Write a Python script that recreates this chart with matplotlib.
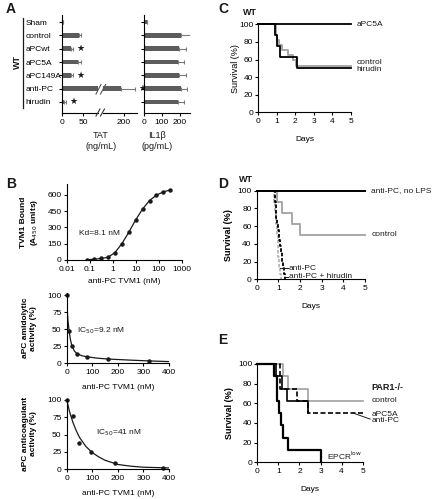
import matplotlib
matplotlib.use("Agg")
import matplotlib.pyplot as plt
from matplotlib.lines import Line2D

W, H = 432, 499
plt.rcParams['font.family'] = ['Liberation Sans', 'DejaVu Sans']
plt.rcParams['font.size'] = 6
plt.rcParams['text.color'] = '#1a1a1a'
plt.rcParams['axes.linewidth'] = 0.8
plt.rcParams['xtick.major.size'] = 2.5
plt.rcParams['ytick.major.size'] = 2.5
plt.rcParams['xtick.major.width'] = 0.8
plt.rcParams['ytick.major.width'] = 0.8
plt.rcParams['xtick.major.pad'] = 1.5
plt.rcParams['ytick.major.pad'] = 1.2
plt.rcParams['xtick.labelsize'] = 6
plt.rcParams['ytick.labelsize'] = 6

# ---------------- data ----------------
# A: TAT / IL1b bars
groups = ['Sham', 'control', 'aPCwt', 'aPC5A', 'aPC149A', 'anti-PC', 'hirudin']
tat = [3, 39, 21, 37, 21, 192, 5]
tat_err = [0, 6, 5, 8, 5, 34, 4]
tat_star = [False, False, True, False, True, True, True]
il1b = [22, 207, 198, 190, 198, 207, 193]
il1b_err = [0, 55, 40, 33, 40, 37, 33]

# B: TVM1 binding
tvm1_conc = [0.078, 0.156, 0.3125, 0.625, 1.25, 2.5, 5, 10, 20, 40, 80, 160, 320]
tvm1_bound = [3, 7, 14, 25, 68, 150, 255, 370, 470, 548, 597, 628, 645]

# B: amidolytic activity
amid_x = [0, 10, 20, 40, 80, 160, 320]
amid_y = [100, 47, 26, 14, 9, 7, 4]
amid_fit_x = [0, 2, 5, 10, 15, 20, 30, 40, 60, 80, 120, 160, 240, 320, 400]
amid_fit_y = [100, 80, 62, 46, 34, 26, 18, 14, 11, 9.5, 7.5, 6.3, 4.8, 3.5, 2.5]

# B: anticoagulant activity
coag_x = [0, 23.4, 46.9, 93.8, 187.5, 375]
coag_y = [100, 77, 38, 25, 8.5, 2]
coag_fit_x = [0, 12, 25, 37, 50, 75, 100, 125, 150, 200, 250, 300, 400]
coag_fit_y = [100, 82, 67, 56, 46, 33, 24, 18, 13, 7, 4.5, 3, 2]

# C: survival WT
c_apc5a_t, c_apc5a_s = [0, 5], [100, 100]
c_ctrl_t = [0, 0.93, 1.02, 1.12, 1.3, 1.6, 1.85, 2.02, 5]
c_ctrl_s = [100, 88, 82, 76, 70.5, 65, 59, 53, 53]
c_hir_t = [0, 0.9, 1.0, 1.17, 2.1, 5]
c_hir_s = [100, 87.5, 75, 62.5, 50, 50]

# D: survival WT
d_nolps_t, d_nolps_s = [0, 5], [100, 100]
d_ctrl_t = [0, 0.95, 1.15, 1.62, 2.0, 5]
d_ctrl_s = [100, 87.5, 75, 62.5, 50, 50]
d_apc_t = [0, 0.85, 0.87, 0.89, 0.91, 0.93, 0.97, 1.02, 1.06, 1.1, 1.15, 1.2, 1.25, 1.3]
d_apc_s = [100, 87.5, 81, 75, 69, 62.5, 56, 44, 37.5, 31, 19, 12.5, 6, 0]
d_hir_t = [0, 0.82, 0.86, 0.9, 0.94, 0.97, 1.0, 1.03, 1.06, 1.1]
d_hir_s = [100, 87.5, 75, 62.5, 50, 37.5, 25, 12.5, 6, 0]

# E: survival PAR1-/-
e_ctrl_t = [0, 1.2, 1.48, 2.42, 5]
e_ctrl_s = [100, 87.5, 75, 62.5, 62.5]
e_apc5a_t = [0, 0.9, 1.15, 1.4, 2.42]
e_apc5a_s = [100, 87.5, 75, 62.5, 50]
e_anti_t = [0, 1.1, 1.9, 2.42, 5]
e_anti_s = [100, 75, 62.5, 50, 50]
e_epcr_t = [0, 0.81, 0.92, 1.03, 1.12, 1.23, 1.44, 3.02]
e_epcr_s = [100, 87.5, 62.5, 50, 37.5, 25, 12.5, 0]

GRAY = '#a0a0a0'
BAR = '#5c5c5c'


def px_rect(x0, y0, x1, y1):
    return [x0 / W, 1 - y1 / H, (x1 - x0) / W, (y1 - y0) / H]


def fig_line(fig, pts, **kw):
    xs = [p[0] / W for p in pts]
    ys = [1 - p[1] / H for p in pts]
    fig.add_artist(Line2D(xs, ys, transform=fig.transFigure, **kw))


def clean(ax):
    ax.spines['top'].set_visible(False)
    ax.spines['right'].set_visible(False)
    ax.minorticks_off()


fig = plt.figure(figsize=(W / 100, H / 100), dpi=100)

# ---------------- panel A ----------------
ypos = list(range(len(groups)))
ax_t1 = fig.add_axes(px_rect(62, 15, 98, 113))
ax_t2 = fig.add_axes(px_rect(103, 15, 137, 113))
ax_il = fig.add_axes(px_rect(143.5, 15, 190, 113))

for ax, lim in [(ax_t1, (0, 84)), (ax_t2, (151, 230))]:
    ax.barh(ypos, tat, height=0.36, color=BAR)
    ax.errorbar(tat, ypos, xerr=[[0] * len(tat), tat_err], fmt='none',
                ecolor='#7a7a7a', elinewidth=0.8, capsize=1.6, capthick=0.8)
    for i, v in enumerate(tat):
        if tat_star[i]:
            ax.annotate('★', xy=(v + tat_err[i], i), xytext=(2.5, 0),
                        textcoords='offset points', va='center', ha='left',
                        fontsize=6.5, family=['DejaVu Sans'], annotation_clip=True)
    ax.set_xlim(*lim)
    ax.set_ylim(6.83, -0.53)
    clean(ax)

ax_t1.set_xticks([0, 50])
ax_t1.set_yticks(ypos)
ax_t1.set_yticklabels(groups, ha='left')
ax_t1.tick_params(axis='y', length=2, pad=24.5)
ax_t2.set_xticks([200])
ax_t2.spines['left'].set_visible(False)
ax_t2.set_yticks([])

ax_il.barh(ypos, il1b, height=0.36, color=BAR)
ax_il.errorbar(il1b, ypos, xerr=[[0] * len(il1b), il1b_err], fmt='none',
               ecolor='#7a7a7a', elinewidth=0.8, capsize=1.6, capthick=0.8)
ax_il.set_xlim(0, 258)
ax_il.set_ylim(6.83, -0.53)
ax_il.set_xticks([0, 100, 200])
ax_il.set_yticks(ypos)
ax_il.set_yticklabels([])
ax_il.tick_params(axis='y', length=2)
clean(ax_il)

# axis break marks
for x in (96, 100.5):
    fig_line(fig, [(x, 94), (x + 5, 84.5)], color='#555555', lw=0.8)
    fig_line(fig, [(x, 116), (x + 4, 109)], color='#333333', lw=0.8)

fig.text(101 / W, 1 - 141 / H, 'TAT\n(ng/mL)', ha='center', va='center', fontsize=6.5, linespacing=1.3)
fig.text(157 / W, 1 - 141 / H, 'IL1β\n(pg/mL)', ha='center', va='center', fontsize=6.5, linespacing=1.3)
fig_line(fig, [(23, 18), (23, 108)], color='#1a1a1a', lw=0.9)
fig.text(17.5 / W, 1 - 62 / H, 'WT', rotation=90, ha='center', va='center',
         fontsize=6.5, fontweight='bold')

# ---------------- panel B ----------------
ax_b1 = fig.add_axes(px_rect(66.7, 184, 181.7, 260))
ax_b1.plot(tvm1_conc, tvm1_bound, color='#1a1a1a', lw=0.9, marker='o', ms=2.2)
ax_b1.set_xscale('log')
ax_b1.set_xlim(0.01, 1000)
ax_b1.set_ylim(0, 700)
ax_b1.set_xticks([0.01, 0.1, 1, 10, 100, 1000])
ax_b1.set_xticklabels(['0.01', '0.1', '1', '10', '100', '1000'])
ax_b1.set_yticks([0, 150, 300, 450, 600])
clean(ax_b1)
ax_b1.set_xlabel('anti-PC TVM1 (nM)', fontsize=6, labelpad=4)
ax_b1.set_ylabel('TVM1 Bound\n(A$_{450}$ units)', fontweight='bold', fontsize=6, va='center')
ax_b1.yaxis.set_label_coords(-0.32, 0.5)
ax_b1.text(0.036, 246, 'Kd=8.1 nM', va='center', fontsize=6)

ax_b2 = fig.add_axes(px_rect(66.7, 293, 169, 363.3))
ax_b2.plot(amid_fit_x, amid_fit_y, color='#1a1a1a', lw=0.9)
ax_b2.plot(amid_x, amid_y, 'o', color='#1a1a1a', ms=2.2, clip_on=False)
ax_b2.set_xlim(0, 400)
ax_b2.set_ylim(0, 103)
ax_b2.set_xticks([0, 100, 200, 300, 400])
ax_b2.set_yticks([0, 25, 50, 75, 100])
clean(ax_b2)
ax_b2.set_xlabel('anti-PC TVM1 (nM)', fontsize=6, labelpad=6)
ax_b2.set_ylabel('aPC amidolytic\nactivity (%)', fontweight='bold', fontsize=6, va='center')
ax_b2.yaxis.set_label_coords(-0.36, 0.5)
ax_b2.text(40, 48, 'IC$_{50}$=9.2 nM', va='center', fontsize=6)

ax_b3 = fig.add_axes(px_rect(66.7, 398.6, 169, 469.3))
ax_b3.plot(coag_fit_x, coag_fit_y, color='#1a1a1a', lw=0.9)
ax_b3.plot(coag_x, coag_y, 'o', color='#1a1a1a', ms=2.2, clip_on=False)
ax_b3.set_xlim(0, 400)
ax_b3.set_ylim(0, 102)
ax_b3.set_xticks([0, 100, 200, 300, 400])
ax_b3.set_yticks([0, 25, 50, 75, 100])
clean(ax_b3)
ax_b3.set_xlabel('anti-PC TVM1 (nM)', fontsize=6, labelpad=6)
ax_b3.set_ylabel('aPC anticoagulant\nactivity (%)', fontweight='bold', fontsize=6, va='center')
ax_b3.yaxis.set_label_coords(-0.36, 0.5)
ax_b3.text(115, 53, 'IC$_{50}$=41 nM', va='center', fontsize=6)


# ---------------- survival panels ----------------
def surv_axes(rect, bold_label):
    ax = fig.add_axes(rect)
    ax.set_xlim(0, 5)
    ax.set_ylim(0, 100)
    ax.set_xticks(range(6))
    ax.set_yticks(range(0, 101, 20))
    clean(ax)
    ax.set_xlabel('Days', fontsize=6, labelpad=8)
    ax.set_ylabel('Survival (%)', fontsize=6.5, va='center',
                  fontweight='bold' if bold_label else 'normal')
    return ax


ax_c = surv_axes(px_rect(258.3, 24.3, 351, 112.3), False)
ax_c.yaxis.set_label_coords(-0.25, 0.5)
ax_c.plot(c_ctrl_t, c_ctrl_s, drawstyle='steps-post', color=GRAY, lw=1.3, clip_on=False)
ax_c.plot(c_hir_t, c_hir_s, drawstyle='steps-post', color='black', lw=1.3, clip_on=False)
ax_c.plot(c_apc5a_t, c_apc5a_s, drawstyle='steps-post', color='black', lw=1.3, clip_on=False)
ax_c.text(5.3, 100, 'aPC5A', va='center', fontsize=6)
ax_c.text(5.3, 57, 'control', va='center', fontsize=6)
ax_c.text(5.3, 48.5, 'hirudin', va='center', fontsize=6)
ax_c.text(-0.8, 108, 'WT', fontsize=6.5, fontweight='bold', va='bottom')

ax_d = surv_axes(px_rect(256.7, 190.7, 365, 279.3), True)
ax_d.yaxis.set_label_coords(-0.26, 0.5)
ax_d.plot(d_ctrl_t, d_ctrl_s, drawstyle='steps-post', color=GRAY, lw=1.3, clip_on=False)
ax_d.plot(d_hir_t, d_hir_s, drawstyle='steps-post', color='#b0b0b0', lw=1.2,
          dashes=(2, 1), clip_on=False)
ax_d.plot(d_apc_t, d_apc_s, drawstyle='steps-post', color='black', lw=1.3,
          dashes=(2, 1), clip_on=False)
ax_d.plot(d_nolps_t, d_nolps_s, drawstyle='steps-post', color='black', lw=1.4, clip_on=False)
ax_d.text(5.3, 100, 'anti-PC, no LPS', va='center', fontsize=6)
ax_d.text(5.3, 50, 'control', va='center', fontsize=6)
ax_d.plot([1.08, 1.44], [12.5, 12.5], color='#1a1a1a', lw=0.7)
ax_d.plot([1.3, 1.44], [3, 3], color='#1a1a1a', lw=0.7)
ax_d.text(1.48, 12.5, 'anti-PC', va='center', fontsize=6)
ax_d.text(1.48, 3, 'anti-PC + hirudin', va='center', fontsize=6)
ax_d.text(-0.8, 107, 'WT', fontsize=6.5, fontweight='bold', va='bottom')

ax_e = surv_axes(px_rect(257.3, 364, 362.7, 462.3), True)
ax_e.yaxis.set_label_coords(-0.26, 0.5)
ax_e.plot(e_ctrl_t, e_ctrl_s, drawstyle='steps-post', color=GRAY, lw=1.2, clip_on=False)
ax_e.plot(e_apc5a_t, e_apc5a_s, drawstyle='steps-post', color='black', lw=1.2, clip_on=False)
ax_e.plot(e_anti_t, e_anti_s, drawstyle='steps-post', color='black', lw=1.2,
          dashes=(3, 1.5), clip_on=False)
ax_e.plot(e_epcr_t, e_epcr_s, drawstyle='steps-post', color='black', lw=1.6, clip_on=False)
ax_e.text(5.43, 76, 'PAR1-/-', va='center', fontsize=6.5, fontweight='bold')
ax_e.text(5.43, 62.5, 'control', va='center', fontsize=6)
ax_e.text(5.43, 49, 'aPC5A', va='center', fontsize=6)
ax_e.text(5.43, 43, 'anti-PC', va='center', fontsize=6)
ax_e.plot([4.56, 5.35], [50, 44], color='#1a1a1a', lw=0.7, clip_on=False)
ax_e.text(3.3, 6.4, 'EPCR$^{\\mathrm{low}}$', va='center', fontsize=6)

# panel letters
for letter, x, y in [('A', 6, 9), ('B', 6, 184), ('C', 218, 9), ('D', 218, 184), ('E', 218, 340)]:
    fig.text(x / W, 1 - y / H, letter, fontsize=10, fontweight='bold', va='center', ha='left')

fig.savefig('out.png', dpi=100)
